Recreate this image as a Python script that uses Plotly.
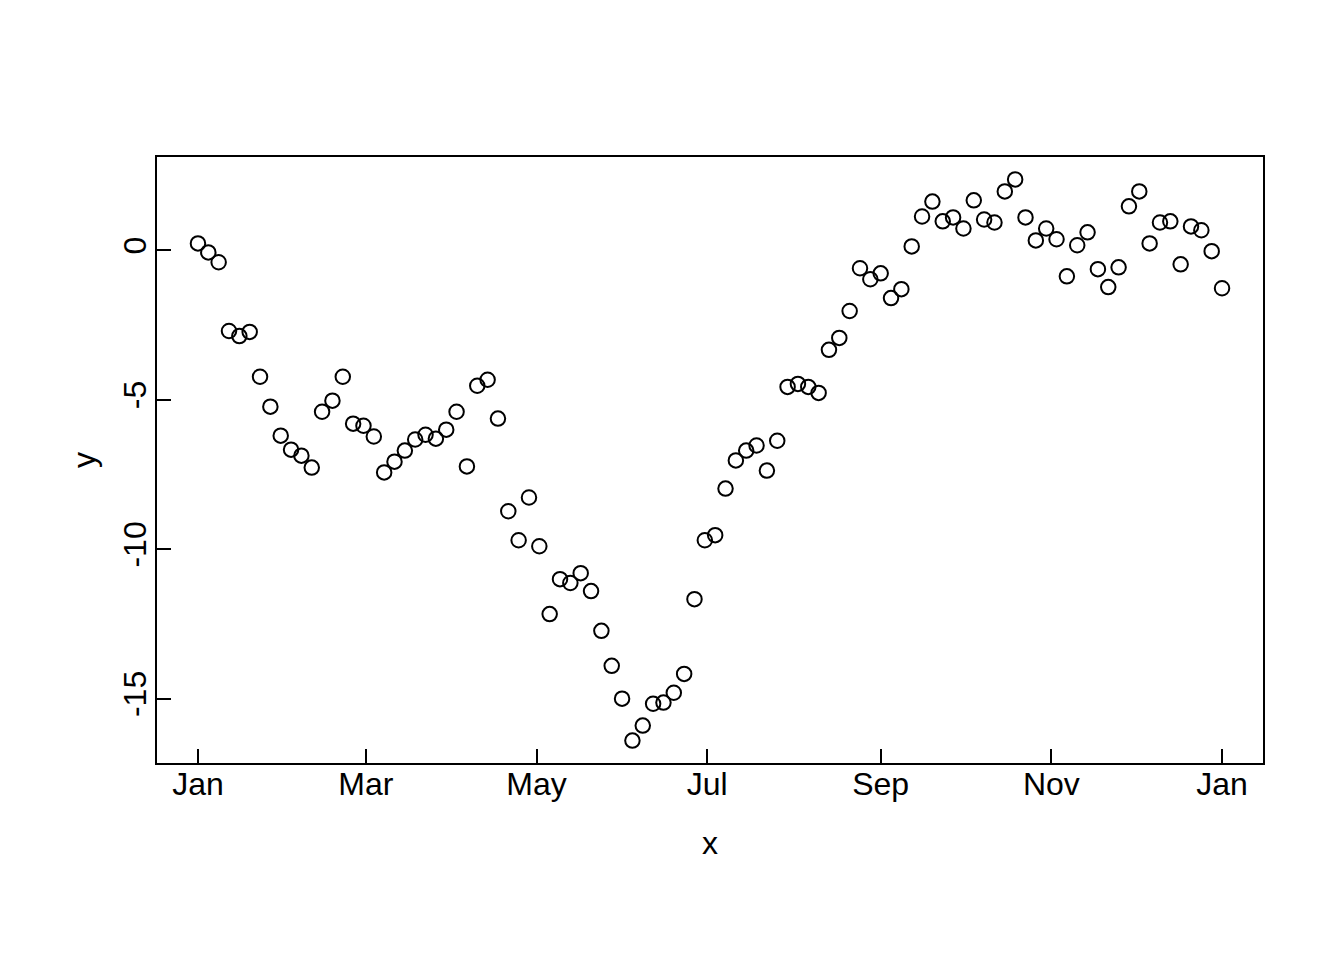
import pandas as pd
import plotly.graph_objects as go

start_date = "2020-01-01"
end_date = "2021-01-01"
n_points = 100

y_values = [
    0.23, -0.07, -0.40, -2.70, -2.87, -2.73, -4.23, -5.23, -6.20, -6.67,
    -6.87, -7.27, -5.40, -5.03, -4.23, -5.80, -5.87, -6.23, -7.43, -7.07,
    -6.70, -6.33, -6.17, -6.30, -6.00, -5.40, -7.23, -4.53, -4.33, -5.63,
    -8.73, -9.70, -8.27, -9.90, -12.17, -11.00, -11.13, -10.80, -11.40, -12.73,
    -13.90, -15.00, -16.40, -15.90, -15.17, -15.13, -14.80, -14.17, -11.67, -9.70,
    -9.53, -7.97, -7.03, -6.70, -6.53, -7.37, -6.37, -4.57, -4.47, -4.57,
    -4.77, -3.33, -2.93, -2.03, -0.60, -0.97, -0.77, -1.60, -1.30, 0.13,
    1.13, 1.63, 0.97, 1.10, 0.73, 1.67, 1.03, 0.93, 1.97, 2.37,
    1.10, 0.33, 0.73, 0.37, -0.87, 0.17, 0.60, -0.63, -1.23, -0.57,
    1.47, 1.97, 0.23, 0.93, 0.97, -0.47, 0.80, 0.67, -0.03, -1.27,
]

x_tick_dates = ["2020-01-01", "2020-03-01", "2020-05-01", "2020-07-01",
                "2020-09-01", "2020-11-01", "2021-01-01"]
x_tick_labels = ["Jan", "Mar", "May", "Jul", "Sep", "Nov", "Jan"]
y_tick_vals = [-15, -10, -5, 0]
y_tick_labels = ["-15", "-10", "-5", "0"]

x_dates = pd.date_range(start_date, end_date, periods=n_points)

# R-style 4% axis extension
x0, x1 = pd.Timestamp(start_date), pd.Timestamp(end_date)
dx = (x1 - x0) * 0.04
x_range = [(x0 - dx).isoformat(), (x1 + dx).isoformat()]
ymin, ymax = min(y_values), max(y_values)
dy = (ymax - ymin) * 0.04
y_range = [ymin - dy, ymax + dy]

FONT = "Liberation Sans, Arial, Helvetica, sans-serif"

fig = go.Figure()
fig.add_trace(go.Scatter(
    x=x_dates, y=y_values, mode="markers",
    marker=dict(symbol="circle-open", size=14.5, color="black",
                line=dict(color="black", width=2)),
    showlegend=False,
))

axis_common = dict(
    showgrid=False, zeroline=False, showline=True, linecolor="black",
    linewidth=1.5, mirror=True, ticks="inside", ticklen=14, tickwidth=1.5,
    tickcolor="black", tickfont=dict(family=FONT, size=32, color="black"),
)

fig.update_layout(
    width=1344, height=960,
    paper_bgcolor="white", plot_bgcolor="white",
    margin=dict(l=149, r=89, t=149, b=205),
    font=dict(family=FONT, size=32, color="black"),
    xaxis=dict(
        range=x_range, tickmode="array", tickvals=x_tick_dates,
        ticktext=x_tick_labels, ticklabelstandoff=-8,
        title=dict(text="x", font=dict(family=FONT, size=32), standoff=30),
        **axis_common,
    ),
    yaxis=dict(
        range=y_range, tickmode="array", tickvals=y_tick_vals,
        ticktext=y_tick_labels, tickangle=-90, ticklabelstandoff=-4,
        title=dict(text="y", font=dict(family=FONT, size=32), standoff=12),
        **axis_common,
    ),
)

fig.write_html("out.html")
